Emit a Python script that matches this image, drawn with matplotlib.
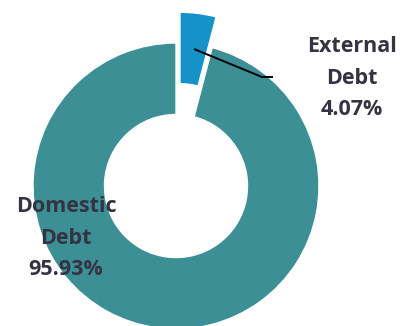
import matplotlib
matplotlib.use("Agg")
import matplotlib.pyplot as plt

# Debt composition
categories = ["External\nDebt", "Domestic\nDebt"]
shares = [4.07, 95.93]
colors = ["#1592C8", "#3D8F96"]

W, H = 401, 326
fig = plt.figure(figsize=(W / 100, H / 100), dpi=100)
ax = fig.add_axes([0, 0, 1, 1])

cx, cy = 176, H - 186
radius = 143
ring = 71.5

ax.pie(
    shares,
    colors=colors,
    startangle=90,
    counterclock=False,
    center=(cx, cy),
    radius=radius,
    explode=[31, 0],
    wedgeprops=dict(width=ring, edgecolor="white", linewidth=1),
    frame=True,
)
ax.set_xlim(0, W)
ax.set_ylim(0, H)
ax.set_aspect("equal")
ax.axis("off")

text_kw = dict(fontfamily="Open Sans", fontweight="bold", fontsize=15.5,
               color="#353342", ha="center", va="center", linespacing=1.68)

ax.text(352, H - 78, f"{categories[0]}\n{shares[0]:.2f}%", **text_kw)
ax.text(66, H - 238, f"{categories[1]}\n{shares[1]:.2f}%", **text_kw)

# leader line for the external share
ax.plot([194, 262, 273], [H - 49, H - 77, H - 77], color="black", lw=1.4,
        solid_capstyle="butt")

fig.savefig("out.png", dpi=100)
